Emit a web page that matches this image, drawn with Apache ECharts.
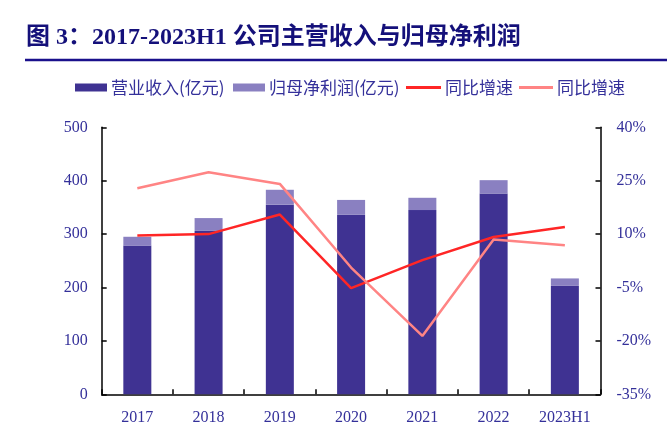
<!DOCTYPE html>
<html>
<head>
<meta charset="utf-8">
<script src="https://cdn.jsdelivr.net/npm/echarts@6/dist/echarts.min.js"></script>
<style>
html,body{margin:0;padding:0;background:#fff;}
#main{width:667px;height:432px;}
</style>
</head>
<body>
<div id="main"></div>
<script>
var categories = ['2017', '2018', '2019', '2020', '2021', '2022', '2023H1'];
var revenue = [278, 306, 355, 336, 345, 376, 203];
var netProfit = [17, 24, 28, 28, 23, 25, 14];
var revenueGrowth = [9.6, 10.0, 15.5, -5.2, 2.7, 9.2, 12.0];
var profitGrowth = [22.9, 27.4, 24.1, 0.6, -18.6, 8.5, 6.9];
var leftTicks = {min: 0, max: 500, interval: 100};
var rightTicks = {min: -35, max: 40, interval: 15};

var navy = '#34309a';
var serif = "'Liberation Serif', 'Times New Roman', 'Noto Sans CJK SC', serif";
var legendFont = "'Noto Sans CJK SC', sans-serif";

var chart = echarts.init(document.getElementById('main'), null, {renderer: 'canvas'});

function legendAt(left, name, w, h) {
  return {
    left: left, top: 79, data: [{name: name, icon: 'rect'}], itemWidth: w, itemHeight: h,
    itemGap: 3, padding: 0,
    formatter: function (n) { return (n === '营收同比' || n === '净利同比') ? '同比增速' : n; },
    textStyle: {color: navy, fontSize: 17, fontFamily: legendFont, padding: [0, 0, 0, -1]}
  };
}

var option = {
  animation: false,
  backgroundColor: '#ffffff',
  title: {
    text: '图 3：2017-2023H1 公司主营收入与归母净利润',
    left: 26, top: 26, padding: 0,
    textStyle: {color: '#14107a', fontSize: 24, fontWeight: 'bold', fontFamily: serif}
  },
  graphic: [{
    type: 'line', shape: {x1: 25, y1: 60, x2: 667, y2: 60},
    style: {stroke: '#1a108c', lineWidth: 2.5}
  }],
  legend: [
    legendAt(75, '营业收入(亿元)', 32, 8),
    legendAt(233, '归母净利润(亿元)', 32, 8),
    legendAt(406, '营收同比', 35, 3),
    legendAt(519, '净利同比', 34, 3)
  ],
  grid: {left: 101.7, right: 66.5, top: 127.3, bottom: 37.7, containLabel: false},
  xAxis: {
    type: 'category', data: categories,
    axisLine: {lineStyle: {color: '#000', width: 1.5}},
    axisTick: {show: true, inside: true, length: 5, alignWithLabel: false, lineStyle: {color: '#000', width: 1.5}},
    axisLabel: {color: navy, fontSize: 16, fontFamily: serif, margin: 15},
    splitLine: {show: false}
  },
  yAxis: [{
    type: 'value', min: leftTicks.min, max: leftTicks.max, interval: leftTicks.interval,
    axisLine: {show: true, lineStyle: {color: '#000', width: 1.5}},
    axisTick: {show: true, inside: true, length: 5, lineStyle: {color: '#000', width: 1.5}},
    axisLabel: {color: navy, fontSize: 16, fontFamily: serif, margin: 14},
    splitLine: {show: false}
  }, {
    type: 'value', min: rightTicks.min, max: rightTicks.max, interval: rightTicks.interval,
    position: 'right',
    axisLine: {show: true, lineStyle: {color: '#000', width: 1.5}},
    axisTick: {show: true, inside: true, length: 5, lineStyle: {color: '#000', width: 1.5}},
    axisLabel: {color: navy, fontSize: 16, fontFamily: serif, margin: 16, formatter: '{value}%'},
    splitLine: {show: false}
  }],
  series: [{
    name: '营业收入(亿元)', type: 'bar', stack: 'total', data: revenue,
    barWidth: 28, itemStyle: {color: '#3f3292'}
  }, {
    name: '归母净利润(亿元)', type: 'bar', stack: 'total', data: netProfit,
    barWidth: 28, itemStyle: {color: '#8a80c1'}
  }, {
    name: '营收同比', type: 'line', yAxisIndex: 1, data: revenueGrowth,
    symbol: 'none', lineStyle: {color: '#ff2626', width: 2.5}, itemStyle: {color: '#ff2626'}
  }, {
    name: '净利同比', type: 'line', yAxisIndex: 1, data: profitGrowth,
    symbol: 'none', lineStyle: {color: '#ff8484', width: 2.5}, itemStyle: {color: '#ff8484'}
  }]
};
chart.setOption(option);
</script>
</body>
</html>
